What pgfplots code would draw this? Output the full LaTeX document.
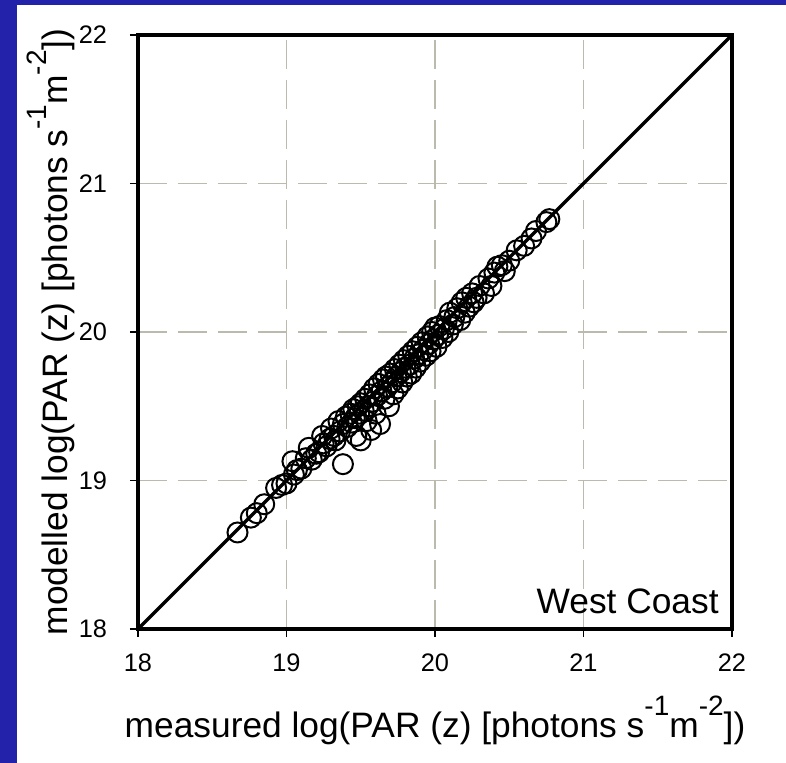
\documentclass[border=0pt]{standalone}
\usepackage{pgfplots}
\pgfplotsset{compat=1.18}
\usepackage{fontspec}
\setmainfont{Liberation Sans}
\definecolor{bgblue}{RGB}{34,34,170}
\definecolor{gridc}{RGB}{188,186,172}
\newcommand{\sps}[1]{\raisebox{0.62em}{\fontsize{21}{21}\selectfont #1}}
\begin{document}
\begin{tikzpicture}
\useasboundingbox (-103.5pt,-100.5pt) rectangle (486pt,471.75pt);
\fill[bgblue] (-103.5pt,-100.5pt) rectangle (486pt,471.75pt);
\fill[white] (-90.75pt,-100.5pt) rectangle (486pt,468pt);
\begin{axis}[
  at={(0,0)}, anchor=south west,
  scale only axis, width=445.5pt, height=445.5pt,
  xmin=18, xmax=22, ymin=18, ymax=22,
  xtick={18,19,20,21,22}, ytick={18,19,20,21,22},
  xtick pos=bottom, ytick pos=left,
  axis line style={line width=3pt},
  tick align=outside, major tick length=6pt,
  tick style={line width=1.2pt, black},
  grid=major,
  major grid style={gridc, line width=1.1pt, dash pattern=on 22pt off 8pt},
  /pgf/number format/assume math mode=true,
  xticklabel={\fontsize{19}{19}\selectfont\pgfmathprintnumber{\tick}},
  yticklabel={\fontsize{19}{19}\selectfont\pgfmathprintnumber{\tick}},
  xticklabel style={yshift=-9pt},
  yticklabel style={anchor=east, inner sep=0pt, xshift=-17pt},
  xlabel={measured log(PAR (z) [photons s\sps{-1}m\sps{-2}])},
  ylabel={modelled log(PAR (z) [photons s\sps{-1}m\sps{-2}])},
  label style={font=\fontsize{26.5}{26.5}\selectfont},
  xlabel style={at={(rel axis cs:0.5,0)}, anchor=base, yshift=-81.5pt},
  ylabel style={at={(rel axis cs:0,0.5)}, anchor=base, yshift=52.5pt},
  clip=false,
]
\addplot[black, line width=2.5pt, no marks] coordinates {(18,18) (22,22)};
\addplot[only marks, mark=o, mark size=7.5pt, mark options={line width=1.5pt, black}] coordinates {
(18.67,18.65) (18.76,18.75) (18.80,18.78) (18.85,18.84) (18.93,18.95) (18.97,18.97)
(19.00,18.98) (19.04,19.13) (19.05,19.04) (19.07,19.07) (19.10,19.08) (19.13,19.15)
(19.15,19.22) (19.17,19.14) (19.20,19.18) (19.22,19.19) (19.24,19.30) (19.25,19.25)
(19.27,19.23) (19.29,19.28) (19.30,19.35) (19.32,19.30) (19.33,19.27) (19.35,19.40)
(19.36,19.33) (19.38,19.11) (19.38,19.38) (19.40,19.43) (19.41,19.36) (19.43,19.45)
(19.44,19.39) (19.45,19.48) (19.46,19.42) (19.47,19.30) (19.48,19.50) (19.49,19.45)
(19.50,19.27) (19.50,19.52) (19.52,19.47) (19.53,19.55) (19.54,19.40) (19.55,19.50)
(19.56,19.58) (19.57,19.34) (19.58,19.53) (19.59,19.62) (19.60,19.45) (19.61,19.57)
(19.62,19.65) (19.63,19.38) (19.64,19.60) (19.65,19.68) (19.66,19.55) (19.67,19.70)
(19.68,19.63) (19.69,19.50) (19.70,19.72) (19.71,19.66) (19.72,19.58) (19.73,19.75)
(19.74,19.70) (19.75,19.62) (19.76,19.78) (19.77,19.73) (19.78,19.66) (19.79,19.81)
(19.80,19.76) (19.81,19.70) (19.82,19.84) (19.83,19.78) (19.84,19.72) (19.85,19.87)
(19.86,19.82) (19.87,19.76) (19.88,19.90) (19.89,19.85) (19.90,19.80) (19.91,19.93)
(19.92,19.88) (19.94,19.84) (19.95,19.97) (19.96,19.92) (19.97,19.87) (19.98,20.00)
(19.99,19.95) (20.00,20.03) (20.01,19.90) (20.02,19.98) (20.03,20.04) (20.05,19.96)
(20.06,20.02) (20.08,20.08) (20.09,20.00) (20.10,20.13) (20.12,20.05) (20.13,20.10)
(20.15,20.16) (20.17,20.08) (20.18,20.20) (20.20,20.13) (20.21,20.23) (20.23,20.17)
(20.25,20.26) (20.26,20.20) (20.28,20.23) (20.30,20.31) (20.33,20.26) (20.36,20.36)
(20.38,20.31) (20.40,20.40) (20.42,20.44) (20.45,20.45) (20.47,20.41) (20.50,20.48)
(20.55,20.55) (20.60,20.58) (20.65,20.63) (20.68,20.68) (20.75,20.74) (20.77,20.76)
};
\node[anchor=south east, font=\fontsize{26.5}{26.5}\selectfont, inner sep=0pt] at (rel axis cs:0.978,0.025) {West Coast};
\end{axis}
\end{tikzpicture}
\end{document}
